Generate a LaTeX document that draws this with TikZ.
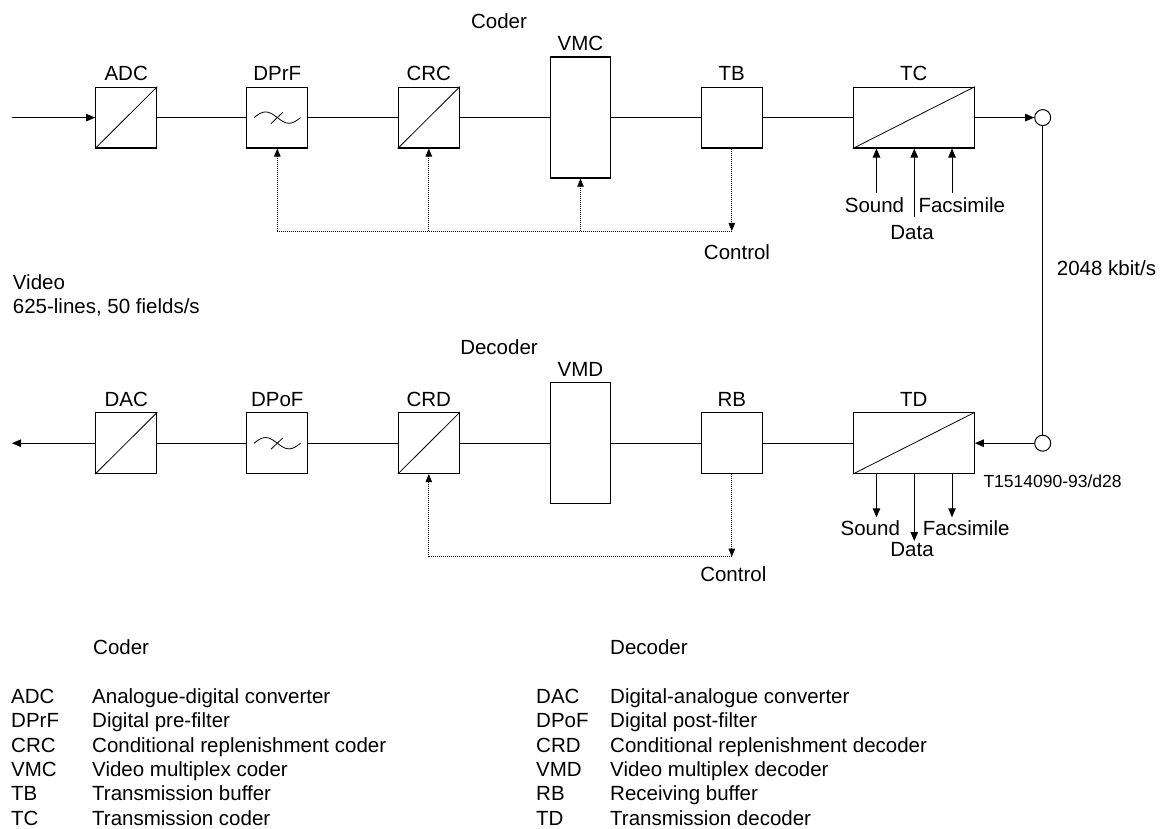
\documentclass[tikz,border=0pt]{standalone}
\usepackage{fontspec}
\setmainfont{Liberation Sans}
\usetikzlibrary{arrows.meta,calc}
\begin{document}
\begin{tikzpicture}[x=1pt,y=-1pt,
  txt/.style={inner sep=0pt,font=\fontsize{20.5}{24}\selectfont},
  small/.style={inner sep=0pt,font=\fontsize{17.5}{20}\selectfont},
  sq/.style={draw,line width=1.2pt,minimum width=61pt,minimum height=60.7pt,inner sep=0pt},
  wide/.style={draw,line width=1.2pt,minimum width=121pt,minimum height=60.7pt,inner sep=0pt},
  tall/.style={draw,line width=1.2pt,minimum width=60.4pt,minimum height=121pt,inner sep=0pt},
  conn/.style={line width=1pt},
  arr/.style={line width=1pt,-{Triangle[length=9pt,width=7.5pt]}},
  ctl/.style={line width=0.8pt,dash pattern=on 0.9pt off 1.1pt},
  ctlarr/.style={ctl,-{Triangle[length=8pt,width=6.5pt]}},
  diag/.style={line width=0.8pt},
  port/.style={circle,draw,line width=1pt,minimum size=16pt,inner sep=0pt},
]
\fill[white] (0,0) rectangle (1168,829);
\useasboundingbox (0,0) rectangle (1168,829);

% ---- coder row ----
\node[sq] (adc) at (126.2,117.6) {};
\node[sq] (dprf) at (277.3,117.6) {};
\node[sq] (crc) at (428.8,117.6) {};
\node[tall] (vmc) at (580.5,117.6) {};
\node[sq] (tb) at (731.8,117.6) {};
\node[wide] (tc) at (913.8,117.6) {};
\node[port] (pt) at (1042.7,117.6) {};

% ---- decoder row ----
\node[sq] (dac) at (126.2,443.2) {};
\node[sq] (dpof) at (277.3,443.2) {};
\node[sq] (crd) at (428.8,443.2) {};
\node[tall] (vmd) at (580.5,443.2) {};
\node[sq] (rb) at (731.8,443.2) {};
\node[wide] (td) at (913.8,443.2) {};
\node[port] (pb) at (1042.7,443.2) {};

% labels over boxes
\foreach \n/\t in {adc/ADC,dprf/DPrF,crc/CRC,vmc/VMC,tb/TB,tc/TC,dac/DAC,dpof/DPoF,crd/CRD,vmd/VMD,rb/RB,td/TD}
  \node[txt,anchor=base] (\n-l) at ($(\n.north)+(0,-6)$) {\t};

\node[txt,anchor=base] (coder) at (499,28.3) {Coder};
\node[txt,anchor=base] (decoder) at (499,354.3) {Decoder};

% diagonals
\foreach \n in {adc,crc,tc,dac,crd,td}
  \draw[diag] (\n.south west) -- (\n.north east);

% filter symbols
\foreach \n in {dprf,dpof}{
  \draw[diag,shift={(\n.center)}] (-23.3,0) sin (-11.7,-5.7) cos (0,0) sin (11.7,5.7) cos (23.3,0);
  \draw[diag,shift={(\n.center)}] (-6.3,6) -- (5.4,-5.2);
}

% main signal path
\coordinate (vin) at (12,117.6);
\coordinate (vout) at (12,443.2);
\draw[arr] (vin) -- (adc);
\draw[conn] (adc) -- (dprf);
\draw[conn] (dprf) -- (crc);
\draw[conn] (crc) -- (vmc);
\draw[conn] (vmc) -- (tb);
\draw[conn] (tb) -- (tc);
\draw[arr] (tc) -- (pt);
\draw[conn] (pt) -- (pb);
\draw[arr] (pb) -- (td);
\draw[conn] (td) -- (rb);
\draw[conn] (rb) -- (vmd);
\draw[conn] (vmd) -- (crd);
\draw[conn] (crd) -- (dpof);
\draw[conn] (dpof) -- (dac);
\draw[arr] (dac) -- (vout);

% control loop, coder
\coordinate (cj) at (731.8,231);
\draw[ctlarr] (tb.south) -- (cj);
\draw[ctl] (dprf.south |- cj) -- (cj);
\draw[ctlarr] (dprf.south |- cj) -- (dprf.south);
\draw[ctlarr] (crc.south |- cj) -- (crc.south);
\draw[ctlarr] (vmc.south |- cj) -- (vmc.south);
\node[txt,anchor=base] (ctl1) at (737,259.3) {Control};

% control loop, decoder
\coordinate (cj2) at (731.8,556.7);
\draw[ctlarr] (rb.south) -- (cj2);
\draw[ctl] (crd.south |- cj2) -- (cj2);
\draw[ctlarr] (crd.south |- cj2) -- (crd.south);
\node[txt,anchor=base] (ctl2) at (733.3,581.7) {Control};

% ancillary inputs to TC
\node[txt,anchor=base] (snd1) at (874.5,212.7) {Sound};
\node[txt,anchor=base] (dat1) at (912,240) {Data};
\node[txt,anchor=base west] (fax1) at (918.3,212.7) {Facsimile};
\coordinate (s1) at (876.5,193.3);
\coordinate (d1) at (914.3,216.7);
\coordinate (f1) at (952,193.3);
\draw[arr] (s1) -- (tc.south -| s1);
\draw[arr] (d1) -- (tc.south -| d1);
\draw[arr] (f1) -- (tc.south -| f1);

% ancillary outputs from TD
\node[txt,anchor=base] (snd2) at (870.3,535.7) {Sound};
\node[txt,anchor=base] (dat2) at (912,556.7) {Data};
\node[txt,anchor=base west] (fax2) at (922.7,535.7) {Facsimile};
\coordinate (s2) at (876.5,517.3);
\coordinate (d2) at (914.3,541);
\coordinate (f2) at (952,517.3);
\draw[arr] (td.south -| s2) -- (s2);
\draw[arr] (td.south -| d2) -- (d2);
\draw[arr] (td.south -| f2) -- (f2);

\node[txt,anchor=base west] (rate) at (1056.7,276) {2048 kbit/s};
\node[small,anchor=base west] (tnum) at (983.3,487.7) {T1514090-93/d28};

\node[txt,anchor=base west] (vid1) at (12.7,290) {Video};
\node[txt,anchor=base west] (vid2) at (12.7,313.3) {625-lines, 50 fields/s};

% legend
\node[txt,anchor=base west] (lgc) at (93,654) {Coder};
\node[txt,anchor=base west] (lgd) at (610,654) {Decoder};
\foreach \i/\a/\b/\c/\d in {0/ADC/Analogue-digital converter/DAC/Digital-analogue converter,
  1/DPrF/Digital pre-filter/DPoF/Digital post-filter,
  2/CRC/Conditional replenishment coder/CRD/Conditional replenishment decoder,
  3/VMC/Video multiplex coder/VMD/Video multiplex decoder,
  4/TB/Transmission buffer/RB/Receiving buffer,
  5/TC/Transmission coder/TD/Transmission decoder}{
  \node[txt,anchor=base west] (la\i) at (11,703.3+24.35*\i) {\a};
  \node[txt,anchor=base west] (lb\i) at (92,703.3+24.35*\i) {\b};
  \node[txt,anchor=base west] (lc\i) at (536,703.3+24.35*\i) {\c};
  \node[txt,anchor=base west] (ld\i) at (610,703.3+24.35*\i) {\d};
}
\end{tikzpicture}
\end{document}
